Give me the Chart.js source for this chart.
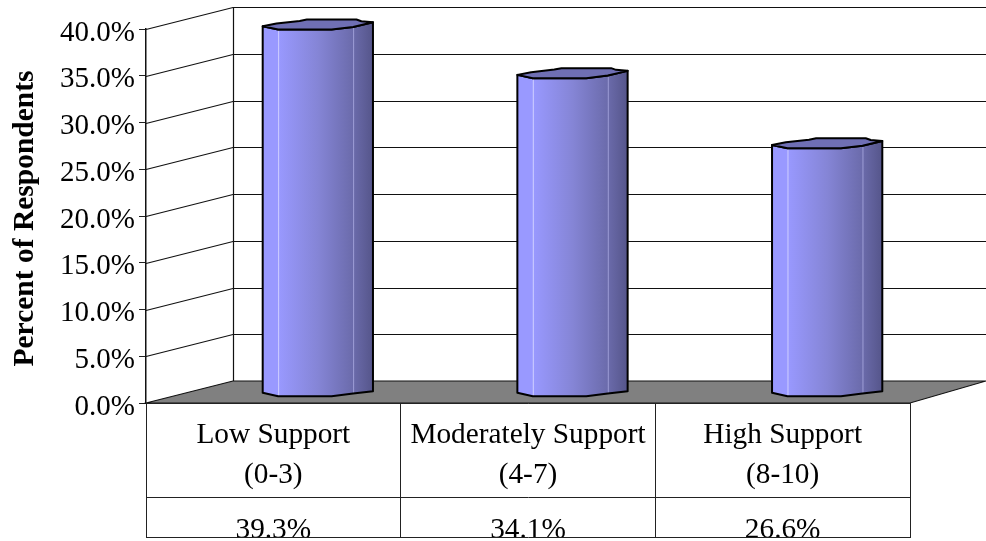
<!DOCTYPE html>
<html>
<head>
<meta charset="utf-8">
<title>Percent of Respondents</title>
<script src="https://cdn.jsdelivr.net/npm/chart.js@4"></script>
<style>
    html, body { margin: 0; padding: 0; background: #fff; }
    canvas { display: block; }
</style>
</head>
<body>
<canvas id="chart" width="986" height="541"></canvas>
<script>
const categoryLines = [["Low Support", "(0-3)"], ["Moderately Support", "(4-7)"], ["High Support", "(8-10)"]];
const percentValues = [39.3, 34.1, 26.6];
const yTitle = "Percent of Respondents";
const yMax = 40;
const yStep = 5;

const SERIF = "'Liberation Serif', 'Times New Roman', serif";
const DEPTH_X = 87, DEPTH_Y = 22; // offset of the back wall from the front plane
const BAR_SHIFT_X = 44.5, BAR_SHIFT_Y = 11; // cylinders stand half way into the floor
const TABLE_MID = 497, TABLE_BOTTOM = 537;

// outline of a cylinder cap: fraction of the radius, px around the centre
const capBack = [[-1, 1.7], [-0.75, -1], [-0.33, -3.6], [-0.2, -5], [0.7, -5], [0.79, -3.3], [1, -2.3]];
const capFront = [[1, -2.3], [0.64, 2.4], [0.25, 5], [-0.72, 5], [-1, 1.7]];
const baseFront = [[1, -0.3], [0.64, 2], [0.25, 4.7], [-0.72, 4.7], [-1, 1.3]];

function tracePoints(ctx, pts, cx, cy, r, first) {
    pts.forEach((p, i) => {
        const x = cx + p[0] * r, y = cy + p[1];
        if (i === 0 && first) ctx.moveTo(x, y);
        else ctx.lineTo(x, y);
    });
}

// back wall, floor and the slanted gridlines
const wallsPlugin = {
    id: "walls",
    beforeDatasetsDraw(chart) {
        const { ctx, chartArea: a, scales: { y } } = chart;
        const backLeft = a.left + DEPTH_X;
        const floorY = y.getPixelForValue(0);
        ctx.save();
        ctx.strokeStyle = "#111";
        ctx.lineWidth = 1.2;

        ctx.beginPath();
        ctx.moveTo(a.left, floorY);
        ctx.lineTo(backLeft, floorY - DEPTH_Y);
        ctx.lineTo(chart.width, floorY - DEPTH_Y);
        ctx.lineTo(a.right, floorY);
        ctx.closePath();
        ctx.fillStyle = "#808080";
        ctx.fill();
        ctx.stroke();

        for (let v = yStep; v <= yMax; v += yStep) {
            const py = Math.round(y.getPixelForValue(v)) + 0.5;
            ctx.beginPath();
            ctx.moveTo(a.left, py);
            ctx.lineTo(backLeft, py - DEPTH_Y);
            ctx.lineTo(chart.width, py - DEPTH_Y);
            ctx.stroke();
        }

        ctx.beginPath();
        ctx.moveTo(backLeft + 0.5, y.getPixelForValue(yMax) - DEPTH_Y);
        ctx.lineTo(backLeft + 0.5, floorY - DEPTH_Y);
        ctx.stroke();
        ctx.restore();
    }
};

// each bar element is redrawn as a cylinder
const cylinderPlugin = {
    id: "cylinders",
    afterDatasetsDraw(chart) {
        const { ctx } = chart;
        chart.getDatasetMeta(0).data.forEach((bar) => {
            const r = bar.width / 2;
            const cx = bar.x + BAR_SHIFT_X;
            const top = bar.y - BAR_SHIFT_Y;
            const bottom = bar.base - BAR_SHIFT_Y;

            const grad = ctx.createLinearGradient(cx - r, 0, cx + r, 0);
            grad.addColorStop(0, "#9999ff");
            grad.addColorStop(0.14, "#9999ff");
            grad.addColorStop(0.5, "#8585d6");
            grad.addColorStop(0.82, "#6b6bab");
            grad.addColorStop(1, "#55558a");

            const outline = () => {
                ctx.beginPath();
                tracePoints(ctx, baseFront.slice().reverse(), cx, bottom, r, true);
                tracePoints(ctx, capFront, cx, top, r, false);
                ctx.closePath();
            };

            ctx.save();
            ctx.lineJoin = "round";
            outline();
            ctx.fillStyle = grad;
            ctx.fill();

            // faint facet edges
            ctx.lineWidth = 1;
            ctx.strokeStyle = "rgba(225,225,255,0.75)";
            ctx.beginPath();
            ctx.moveTo(cx - 0.72 * r + 0.5, top + 5);
            ctx.lineTo(cx - 0.72 * r + 0.5, bottom + 5);
            ctx.stroke();
            ctx.strokeStyle = "rgba(170,170,225,0.8)";
            ctx.beginPath();
            ctx.moveTo(cx + 0.64 * r + 0.5, top + 3);
            ctx.lineTo(cx + 0.64 * r + 0.5, bottom + 2);
            ctx.stroke();

            ctx.strokeStyle = "#000";
            ctx.lineWidth = 2;
            outline();
            ctx.stroke();

            ctx.beginPath();
            tracePoints(ctx, capBack, cx, top, r, true);
            tracePoints(ctx, capFront, cx, top, r, false);
            ctx.closePath();
            ctx.fillStyle = "#6f6fb4";
            ctx.fill();
            ctx.stroke();
            ctx.restore();
        });
    }
};

// axis title and the data table under the plot; the table's bottom rule cuts its text off
const tablePlugin = {
    id: "dataTable",
    afterDraw(chart) {
        const { ctx, chartArea: a, scales: { x } } = chart;
        const cell = (a.right - a.left) / categoryLines.length;
        ctx.save();
        ctx.strokeStyle = "#222";
        ctx.lineWidth = 1;
        ctx.beginPath();
        for (let i = 0; i <= categoryLines.length; i++) {
            const px = Math.floor(a.left + i * cell) + 0.5;
            ctx.moveTo(px, a.bottom);
            ctx.lineTo(px, TABLE_BOTTOM);
        }
        [a.bottom, TABLE_MID, TABLE_BOTTOM].forEach((py) => {
            ctx.moveTo(a.left, py + 0.5);
            ctx.lineTo(a.right + 1, py + 0.5);
        });
        ctx.stroke();

        ctx.fillStyle = "#000";
        ctx.textAlign = "center";
        ctx.textBaseline = "alphabetic";

        ctx.save();
        ctx.translate(33, 218.5);
        ctx.rotate(-Math.PI / 2);
        ctx.font = "bold 29.5px " + SERIF;
        ctx.fillText(yTitle, 0, 0);
        ctx.restore();

        ctx.font = "29.3px " + SERIF;
        categoryLines.forEach((lines, i) => {
            const px = x.getPixelForValue(i);
            ctx.fillText(lines[0], px, 443);
            ctx.fillText(lines[1], px, 483);
        });

        ctx.beginPath();
        ctx.rect(a.left, TABLE_MID, a.right - a.left, TABLE_BOTTOM - TABLE_MID);
        ctx.clip();
        percentValues.forEach((v, i) => {
            ctx.fillText(v.toFixed(1) + "%", x.getPixelForValue(i), 538);
        });
        ctx.restore();
    }
};

new Chart(document.getElementById("chart"), {
    type: "bar",
    data: {
        labels: categoryLines.map((l) => l.join(" ")),
        datasets: [{
            label: yTitle,
            data: percentValues,
            backgroundColor: "rgba(0,0,0,0)",
            barPercentage: 0.433,
            categoryPercentage: 1
        }]
    },
    options: {
        responsive: false,
        animation: false,
        layout: { padding: { top: 29, right: 76, left: 0, bottom: 0 } },
        plugins: { legend: { display: false }, tooltip: { enabled: false } },
        scales: {
            x: {
                ticks: { display: false },
                grid: { display: false },
                border: { display: false },
                afterFit(scale) { scale.height = 138; }
            },
            y: {
                min: 0,
                max: yMax,
                ticks: {
                    stepSize: yStep,
                    color: "#000",
                    padding: 4,
                    labelOffset: 4,
                    font: { family: SERIF, size: 29 },
                    callback: (v) => v.toFixed(1) + "%"
                },
                grid: { drawOnChartArea: false, tickLength: 7, tickColor: "#222" },
                border: { display: true, color: "#111", width: 1.5 },
                afterFit(scale) { scale.width = 146; }
            }
        }
    },
    plugins: [wallsPlugin, cylinderPlugin, tablePlugin]
});
</script>
</body>
</html>
